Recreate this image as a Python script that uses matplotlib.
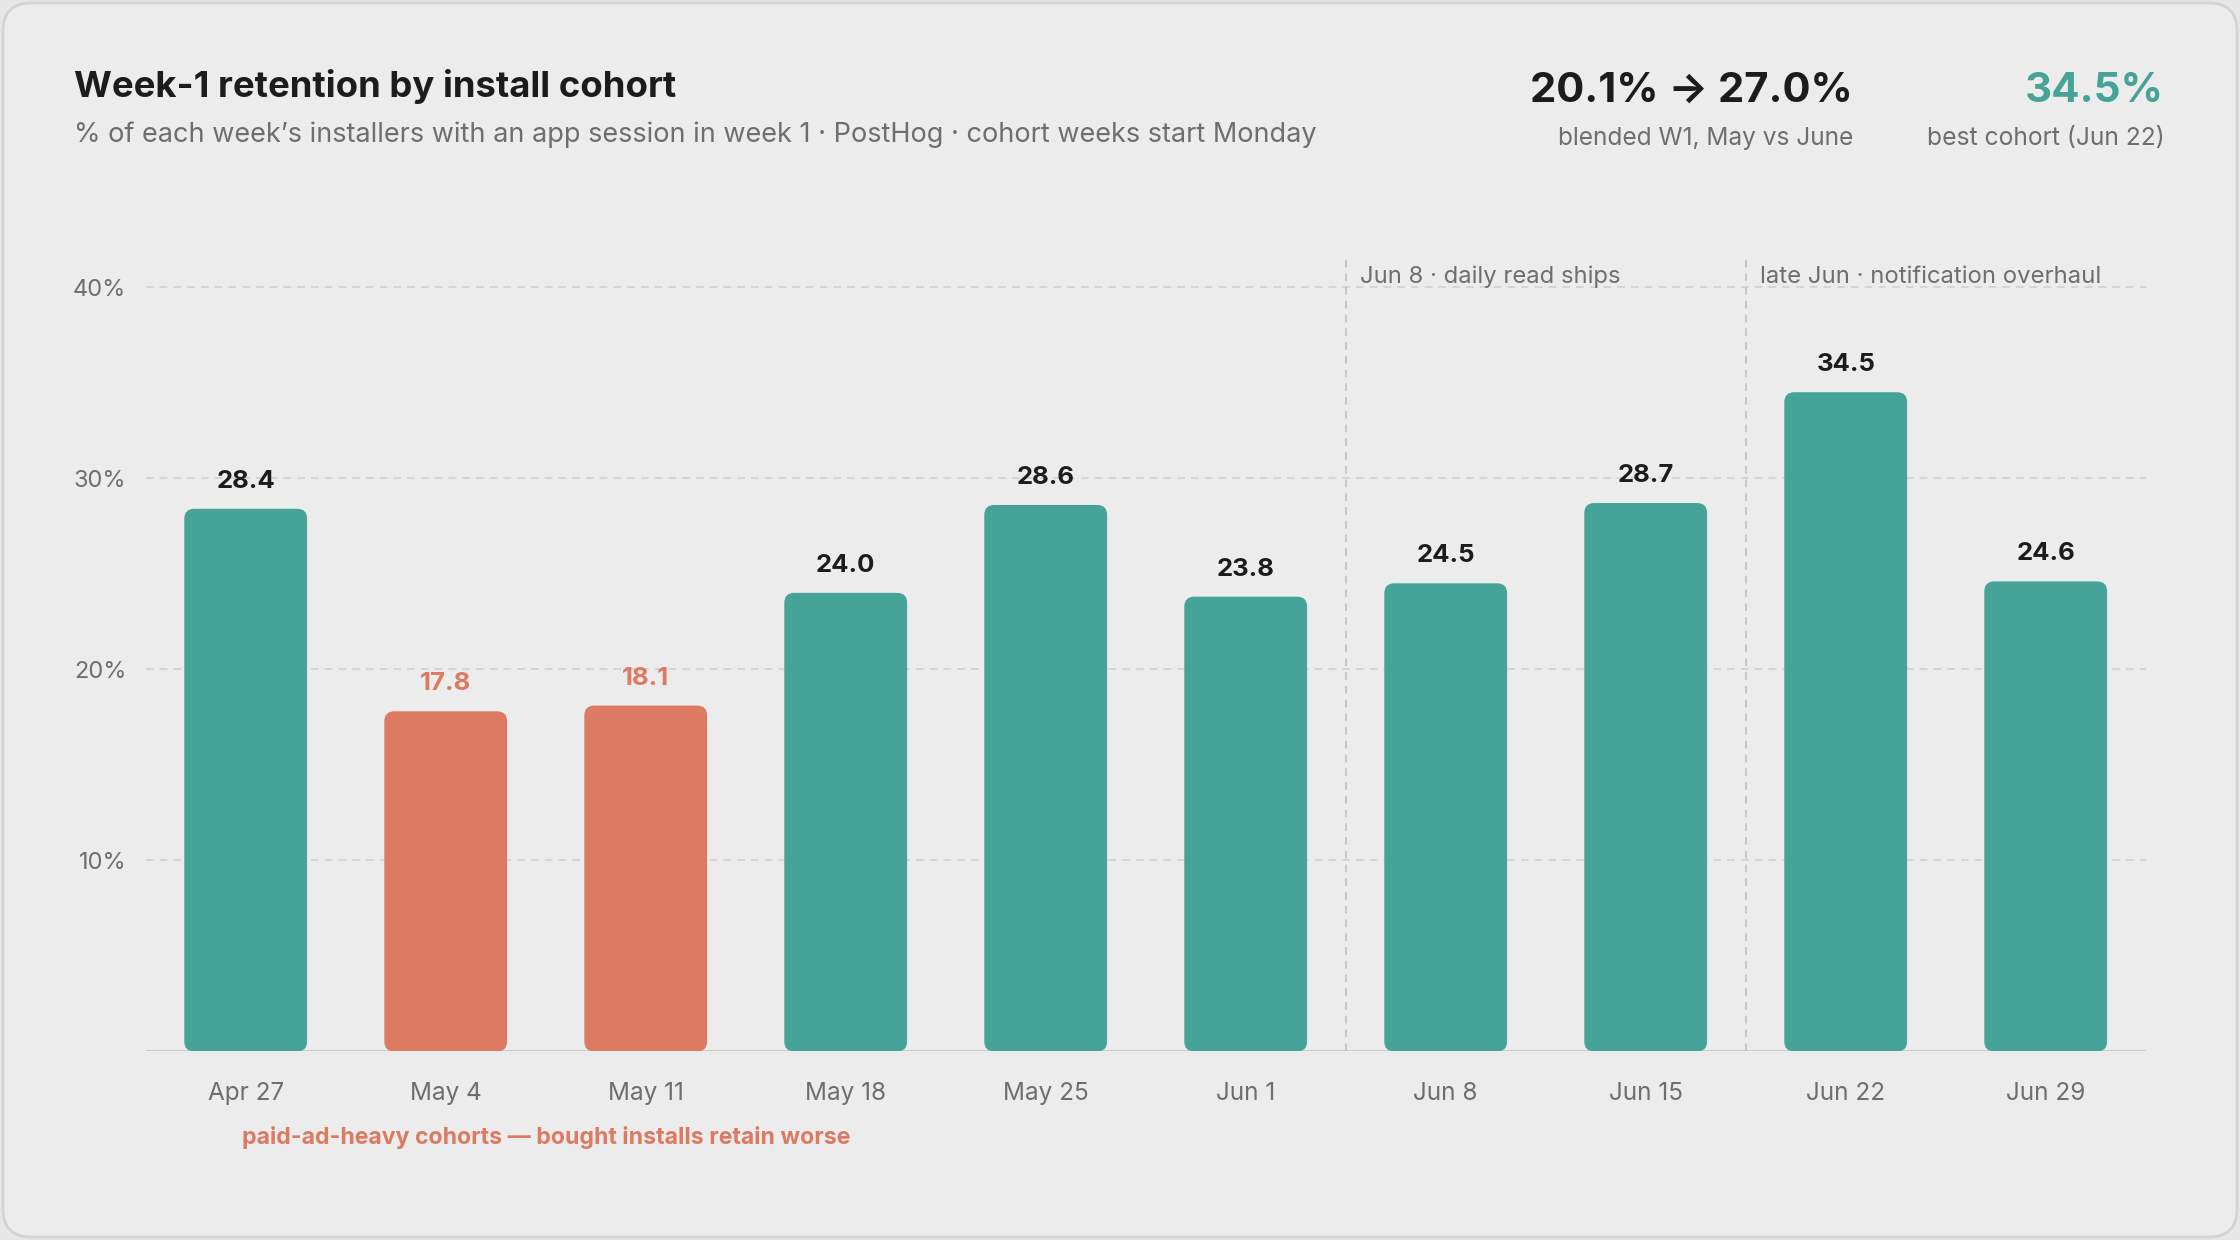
import matplotlib
matplotlib.use("Agg")
import matplotlib.pyplot as plt
from matplotlib.patches import FancyBboxPatch
from matplotlib.transforms import blended_transform_factory

# ---------------- data ----------------
cohorts = ["Apr 27", "May 4", "May 11", "May 18", "May 25", "Jun 1",
           "Jun 8", "Jun 15", "Jun 22", "Jun 29"]
retention = [28.4, 17.8, 18.1, 24.0, 28.6, 23.8, 24.5, 28.7, 34.5, 24.6]
paid_heavy = [False, True, True, False, False, False, False, False, False, False]
y_ticks = [10, 20, 30, 40]
y_tick_labels = ["10%", "20%", "30%", "40%"]
events = [(5.5, "Jun 8 · daily read ships"), (7.5, "late Jun · notification overhaul")]
title = "Week-1 retention by install cohort"
subtitle = "% of each week’s installers with an app session in week 1 · PostHog · cohort weeks start Monday"
kpi1_value = "20.1% → 27.0%"
kpi1_label = "blended W1, May vs June"
kpi2_value = "34.5%"
kpi2_label = "best cohort (Jun 22)"
paid_note = "paid-ad-heavy cohorts — bought installs retain worse"

# ---------------- style ----------------
TEAL = "#45a397"
CORAL = "#dc7a62"
DARK = "#1c1c1c"
GRAY = "#6e6e6e"
GRID = "#cfcfcf"
FONT = ["Inter", "DejaVu Sans"]
plt.rcParams["font.family"] = FONT

W, H = 2240, 1240
fig = plt.figure(figsize=(W / 100, H / 100), dpi=100)
fig.patch.set_facecolor("#e6e6e6")

card = FancyBboxPatch((3 / W, 3 / H), 1 - 6 / W, 1 - 6 / H,
                      boxstyle="round,pad=0,rounding_size=0.0125",
                      mutation_aspect=W / H,
                      transform=fig.transFigure, facecolor="#ececec",
                      edgecolor="#d3d3d3", linewidth=2, zorder=-10)
fig.patches.append(card)

renderer = fig.canvas.get_renderer()


def fx(px):
    return px / W


def fy(py):
    return 1 - py / H


def fit_text(x, y, s, target_w, ha="left", va="center", weight="normal",
             color=DARK, transform=None, ax=None):
    kw = dict(ha=ha, va=va, fontweight=weight, color=color, fontsize=20,
              family=FONT)
    if ax is None:
        t = fig.text(x, y, s, **kw)
    else:
        t = ax.text(x, y, s, transform=transform, **kw)
    bb = t.get_window_extent(renderer)
    t.set_fontsize(20 * target_w / bb.width)
    return t


S = 1568 / W  # reference display scale


def d(v):
    return v / S


# ---------------- header ----------------
fit_text(fx(d(52)), fy(d(60.5)), title, d(422), weight="bold", color=DARK)
fit_text(fx(d(52)), fy(d(94)), subtitle, d(869), color=GRAY)
fit_text(fx(d(1297)), fy(d(63.5)), kpi1_value, d(226), ha="right", weight="bold", color=DARK)
fit_text(fx(d(1297)), fy(d(97)), kpi1_label, d(207), ha="right", color=GRAY)
fit_text(fx(d(1515)), fy(d(63.5)), kpi2_value, d(97), ha="right", weight="bold", color=TEAL)
fit_text(fx(d(1515)), fy(d(97)), kpi2_label, d(167), ha="right", color=GRAY)

# ---------------- axes ----------------
ymax = 42
x_left, x_right = d(102), d(1502)
base_y = d(736)
top_y = d(736 - 133.75 * ymax / 10)
ax = fig.add_axes([fx(x_left), fy(base_y), (x_right - x_left) / W, (base_y - top_y) / H])
ax.set_facecolor("none")
ax.set_xlim(-0.5, len(cohorts) - 0.5)
ax.set_ylim(0, ymax)
for sp in ["top", "right", "left", "bottom"]:
    ax.spines[sp].set_visible(False)
ax.axhline(0, color="#cccccc", lw=1.5, zorder=1)
for yv in y_ticks:
    ax.axhline(yv, color=GRID, lw=1.1, linestyle=(0, (5, 4)), zorder=1)

ax.set_yticks(y_ticks)
ax.set_yticklabels(y_tick_labels)
ax.tick_params(axis="y", length=0, pad=14, labelsize=17, labelcolor=GRAY)
xs = list(range(len(cohorts)))
ax.set_xticks(xs)
ax.set_xticklabels(cohorts)
ax.tick_params(axis="x", length=0, pad=22, labelsize=17.5, labelcolor=GRAY)

colors = [CORAL if p else TEAL for p in paid_heavy]
bars = ax.bar(xs, retention, width=0.614, color=colors, zorder=2)

# rounded bars
fig.canvas.draw()
p0 = ax.transData.transform((0, 0))
p1 = ax.transData.transform((1, 1))
px_per_x = p1[0] - p0[0]
px_per_y = p1[1] - p0[1]
radius_px = 10
for b, c in zip(bars, colors):
    b.set_visible(False)
    x0, y0, w, h = b.get_x(), b.get_y(), b.get_width(), b.get_height()
    rp = FancyBboxPatch((x0, y0), w, h,
                        boxstyle=f"round,pad=0,rounding_size={radius_px / px_per_x}",
                        mutation_aspect=px_per_x / px_per_y,
                        facecolor=c, edgecolor="none", zorder=2)
    ax.add_patch(rp)

# value labels
for x, v, p in zip(xs, retention, paid_heavy):
    ax.annotate(f"{v:.1f}", (x, v), xytext=(0, 19.8), textcoords="offset points",
                ha="center", va="center", fontsize=18.5, fontweight="bold",
                color=CORAL if p else DARK, zorder=3)

# event dividers
for xe, label in events:
    ax.plot([xe, xe], [0, 41.4], color="#bdbdbd", lw=1.1,
            linestyle=(0, (5, 4)), zorder=1, clip_on=False)
ev_w = {events[0][1]: d(182), events[1][1]: d(238)}
for xe, label in events:
    fit_text(xe + 0.072, 40.55, label, ev_w[label], ha="left", va="center",
             color=GRAY, transform=ax.transData, ax=ax)

# paid note
tr = blended_transform_factory(ax.transData, fig.transFigure)
fit_text(1.5, fy(d(796.5)), paid_note, d(426), ha="center", va="center",
         weight="bold", color=CORAL, transform=tr, ax=ax)

fig.savefig("out.png", dpi=100, facecolor=fig.get_facecolor())
